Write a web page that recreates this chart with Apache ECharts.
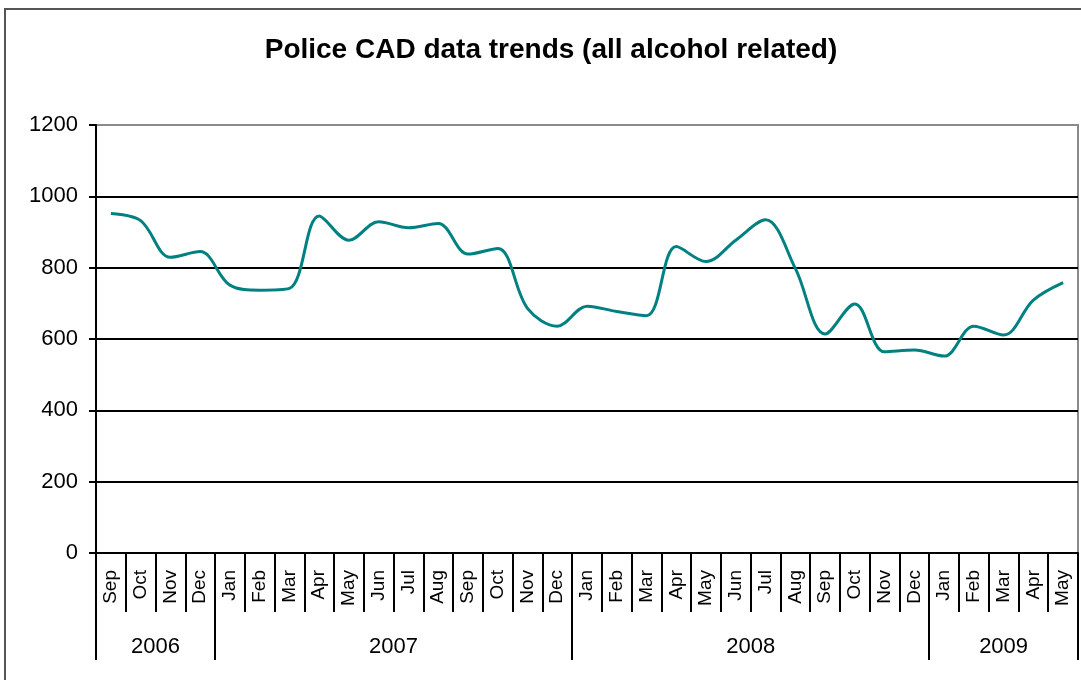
<!DOCTYPE html>
<html>
<head>
<meta charset="utf-8">
<script src="https://cdn.jsdelivr.net/npm/echarts@6/dist/echarts.min.js"></script>
<style>
  html, body { margin: 0; padding: 0; background: #fff; }
  #wrap { position: relative; width: 1081px; height: 680px; overflow: hidden; }
  #frame { position: absolute; left: 4px; top: 8px; width: 1200px; height: 800px;
           border-left: 2px solid #555; border-top: 2px solid #555; box-sizing: border-box; }
  #chart { position: absolute; left: 0; top: 0; width: 1081px; height: 680px; }
</style>
</head>
<body>
<div id="wrap">
  <div id="frame"></div>
  <div id="chart"></div>
</div>
<script>
const titleText = 'Police CAD data trends (all alcohol related)';
const months = ['Sep','Oct','Nov','Dec',
  'Jan','Feb','Mar','Apr','May','Jun','Jul','Aug','Sep','Oct','Nov','Dec',
  'Jan','Feb','Mar','Apr','May','Jun','Jul','Aug','Sep','Oct','Nov','Dec',
  'Jan','Feb','Mar','Apr','May'];
const values = [952, 932, 829, 845,
  751, 737, 742, 945, 877, 929, 912, 924, 838, 854, 686, 636,
  692, 677, 665, 859, 817, 877, 934, 798, 614, 698, 564, 569,
  552, 636, 611, 709, 758];
const years = ['2006', '2007', '2008', '2009'];
const yearMonthCounts = [4, 12, 12, 5];
const yTicks = [0, 200, 400, 600, 800, 1000, 1200];

// derived: year boundaries and label centres in month units
const yearBounds = [0];
yearMonthCounts.forEach(c => yearBounds.push(yearBounds[yearBounds.length - 1] + c));
const yearCenters = years.map((y, i) => (yearBounds[i] + yearBounds[i + 1]) / 2);

const font = 'Liberation Sans, Arial, sans-serif';
const chart = echarts.init(document.getElementById('chart'), null, { renderer: 'canvas' });
chart.setOption({
  animation: false,
  backgroundColor: 'transparent',
  title: {
    text: titleText,
    left: 551, top: 36, textAlign: 'center', padding: 0,
    textStyle: { fontFamily: font, fontSize: 28, fontWeight: 'bold', color: '#000' }
  },
  grid: {
    left: 96, right: 3, top: 125, bottom: 127,
    show: true, borderColor: '#8a8a8a', borderWidth: 2, backgroundColor: 'transparent'
  },
  xAxis: [{
    type: 'category',
    data: months,
    boundaryGap: true,
    axisLine: { show: true, lineStyle: { color: '#000', width: 2 } },
    axisTick: { show: true, interval: 0, length: 59, lineStyle: { color: '#000', width: 2 } },
    axisLabel: { interval: 0, rotate: 90, margin: 17, fontFamily: font, fontSize: 19, color: '#000' },
    splitLine: { show: false }
  }, {
    type: 'value',
    min: 0,
    max: months.length,
    position: 'bottom',
    axisLine: { show: false },
    axisTick: { show: true, length: 107, customValues: yearBounds, lineStyle: { color: '#000', width: 2 } },
    axisLabel: {
      margin: 83, customValues: yearCenters, fontFamily: font, fontSize: 22, color: '#000',
      formatter: v => { const i = yearCenters.indexOf(v); return i >= 0 ? years[i] : ''; }
    },
    splitLine: { show: false }
  }],
  yAxis: {
    type: 'value',
    min: yTicks[0], max: yTicks[yTicks.length - 1], interval: yTicks[1] - yTicks[0],
    axisLine: { show: true, lineStyle: { color: '#000', width: 2 } },
    axisTick: { show: true, length: 7, lineStyle: { color: '#000', width: 2 } },
    axisLabel: { margin: 18, fontFamily: font, fontSize: 22, color: '#000', formatter: v => String(v) },
    splitLine: { show: true, lineStyle: { color: ['#000','#000','#000','#000','#000','#000','#8a8a8a'], width: 2 } }
  },
  series: [{
    type: 'line',
    data: values,
    xAxisIndex: 0,
    smooth: 0.35,
    symbol: 'none',
    lineStyle: { color: '#008080', width: 3 }
  }]
});
</script>
</body>
</html>
